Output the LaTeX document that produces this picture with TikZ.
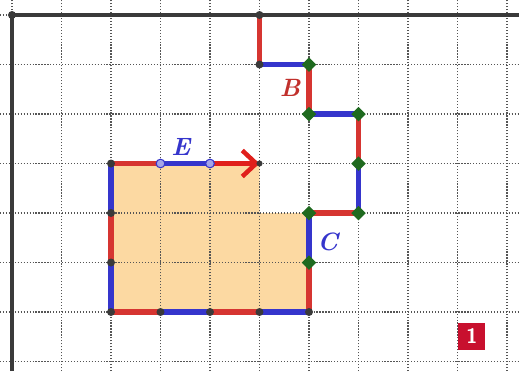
\documentclass[tikz,border=0pt]{standalone}
\usetikzlibrary{arrows.meta,shapes.geometric}
\definecolor{pred}{HTML}{D63531}
\definecolor{parrow}{HTML}{E0201C}
\definecolor{pblue}{HTML}{3535CC}
\definecolor{pgreen}{HTML}{1F6A1F}
\definecolor{porange}{HTML}{FCD9A2}
\definecolor{paxis}{HTML}{3A3A3A}
\definecolor{pgrid}{HTML}{555555}
\definecolor{pbadge}{HTML}{C8102E}
\tikzset{
  gridline/.style={pgrid, line width=0.7pt, densely dotted},
  axisline/.style={paxis, line width=2pt},
  rseg/.style={pred, line width=2.9pt},
  bseg/.style={pblue, line width=2.9pt},
  dotnode/.style={circle, fill=paxis, inner sep=0pt, minimum size=4.6pt},
  edot/.style={circle, fill=pblue!45, draw=pblue, line width=0.6pt, inner sep=0pt, minimum size=5pt},
  gdiam/.style={diamond, fill=pgreen, inner sep=0pt, minimum size=8.5pt},
  lbl/.style={font=\bfseries\itshape\Large, inner sep=1pt},
  badge/.style={fill=pbadge, text=white, font=\sffamily\bfseries\large, minimum size=0.545cm, inner sep=0pt}
}
\begin{document}
\begin{tikzpicture}[x=1cm,y=1cm]
\useasboundingbox (-0.2424,-7.192) rectangle (10.2424,0.303);
\fill[white] (-0.2424,-7.192) rectangle (10.2424,0.303);
% coordinates
\coordinate (O) at (0,0);
\coordinate (B0) at (5,0);
\coordinate (B1) at (5,-1);
\coordinate (B2) at (6,-1);
\coordinate (B3) at (6,-2);
\coordinate (B4) at (7,-2);
\coordinate (B5) at (7,-3);
\coordinate (B6) at (7,-4);
\coordinate (B7) at (6,-4);
\coordinate (B8) at (6,-5);
\coordinate (B9) at (6,-6);
\coordinate (Q2) at (2,-6);
\coordinate (Q3) at (3,-6);
\coordinate (Q4) at (4,-6);
\coordinate (Q5) at (5,-6);
\coordinate (L3) at (2,-3);
\coordinate (L4) at (2,-4);
\coordinate (L5) at (2,-5);
\coordinate (E3) at (3,-3);
\coordinate (E4) at (4,-3);
\coordinate (E5) at (5,-3);
\coordinate (K) at (5,-4);
\coordinate (AxR) at (10.2424,0);
\coordinate (AxB) at (0,-7.192);
% orange region
\fill[porange] (L3) -- (E5) -- (K) -- (B7) -- (B9) -- (Q2) -- cycle;
% grid
\draw[gridline] (-0.2424,-7.192) grid (10.2424,0.303);
% axes
\draw[axisline] (AxB) -- (O) -- (AxR);
% path B / C
\draw[rseg] (B0) -- (B1);
\draw[bseg] (B1) -- (B2);
\draw[rseg] (B2) -- (B3);
\draw[bseg] (B3) -- (B4);
\draw[rseg] (B4) -- (B5);
\draw[bseg] (B5) -- (B6);
\draw[rseg] (B6) -- (B7);
\draw[bseg] (B7) -- (B8);
\draw[rseg] (B8) -- (B9);
% bottom
\draw[rseg] (Q2) -- (Q3);
\draw[bseg] (Q3) -- (Q4);
\draw[rseg] (Q4) -- (Q5);
\draw[bseg] (Q5) -- (B9);
% left
\draw[bseg] (L3) -- (L4);
\draw[rseg] (L4) -- (L5);
\draw[bseg] (L5) -- (Q2);
% top
\draw[rseg] (L3) -- (E3);
\draw[bseg] (E3) -- (E4);
\draw[rseg, parrow, -{Straight Barb[length=8pt,width=15pt,line width=2.6pt]}] (E4) -- (E5);
% dots
\node[dotnode] (dO) at (O) {};
\node[dotnode] (dB0) at (B0) {};
\node[dotnode] (dB1) at (B1) {};
\node[dotnode] (dB9) at (B9) {};
\node[dotnode] (dQ2) at (Q2) {};
\node[dotnode] (dQ3) at (Q3) {};
\node[dotnode] (dQ4) at (Q4) {};
\node[dotnode] (dQ5) at (Q5) {};
\node[dotnode] (dL3) at (L3) {};
\node[dotnode] (dL4) at (L4) {};
\node[dotnode] (dL5) at (L5) {};
\node[dotnode, minimum size=3.5pt] (dE5) at (E5) {};
\node[edot] (dE3) at (E3) {};
\node[edot] (dE4) at (E4) {};
\foreach \p in {B2,B3,B4,B5,B6,B7,B8} {\node[gdiam] (g\p) at (\p) {};}
% labels
\node[lbl, text=pred!90!black] (lB) at (5.62,-1.47) {B};
\node[lbl, text=pblue] (lC) at (6.38,-4.59) {C};
\node[lbl, text=pblue] (lE) at (3.41,-2.67) {E};
% badge
\node[badge] (badge1) at (9.29,-6.485) {1};
\end{tikzpicture}
\end{document}
